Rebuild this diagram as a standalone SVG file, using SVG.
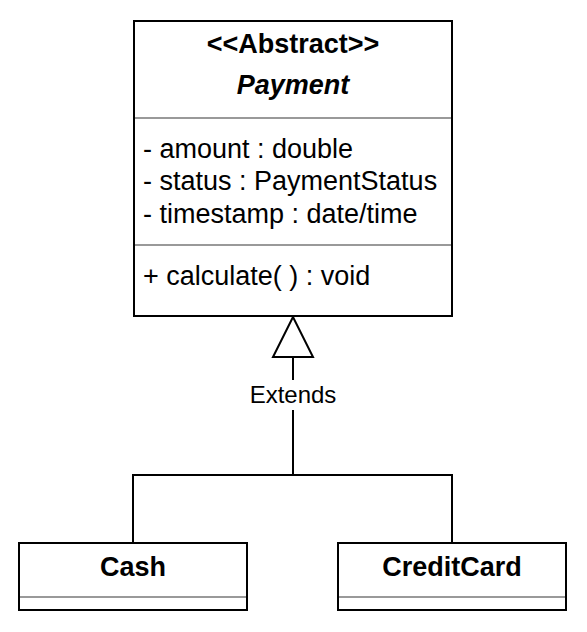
<svg xmlns="http://www.w3.org/2000/svg" width="587" height="632" viewBox="0 0 587 632">
<style>
.box{fill:#fff;stroke:#000;stroke-width:2}
.sep{stroke:#999;stroke-width:2}
.t{font-family:"Liberation Sans",Arial,sans-serif;font-size:27px;fill:#000}
.b{font-weight:bold}
.c{text-anchor:middle}
.ln{fill:none;stroke:#000;stroke-width:2}
</style>
<rect width="587" height="632" fill="#fff"/>
<g id="payment">
<rect class="box" x="134" y="21" width="318" height="295"/>
<text class="t b c" x="293" y="53">&lt;&lt;Abstract&gt;&gt;</text>
<text class="t b c" x="293" y="94" font-style="italic">Payment</text>
<line class="sep" x1="135" y1="118" x2="451" y2="118"/>
<text class="t" x="143" y="158">- amount : double</text>
<text class="t" x="143" y="190">- status : PaymentStatus</text>
<text class="t" x="143" y="223">- timestamp : date/time</text>
<line class="sep" x1="135" y1="245" x2="451" y2="245"/>
<text class="t" x="143" y="285">+ calculate( ) : void</text>
</g>
<g id="cash">
<rect class="box" x="19" y="543" width="228" height="67"/>
<text class="t b c" x="133" y="576">Cash</text>
<line class="sep" x1="20" y1="597" x2="246" y2="597"/>
</g>
<g id="creditcard">
<rect class="box" x="338" y="543" width="228" height="67"/>
<text class="t b c" x="452" y="576">CreditCard</text>
<line class="sep" x1="339" y1="597" x2="565" y2="597"/>
</g>
<g id="connectors">
<polygon class="ln" points="293,317 273,357 313,357"/>
<line class="ln" x1="293" y1="357" x2="293" y2="380"/>
<line class="ln" x1="293" y1="410" x2="293" y2="475"/>
<polyline class="ln" points="133,543 133,475 452,475 452,543"/>
<text x="293" y="403" style="font-family:'Liberation Sans',Arial,sans-serif;font-size:24px" text-anchor="middle">Extends</text>
</g>
</svg>
